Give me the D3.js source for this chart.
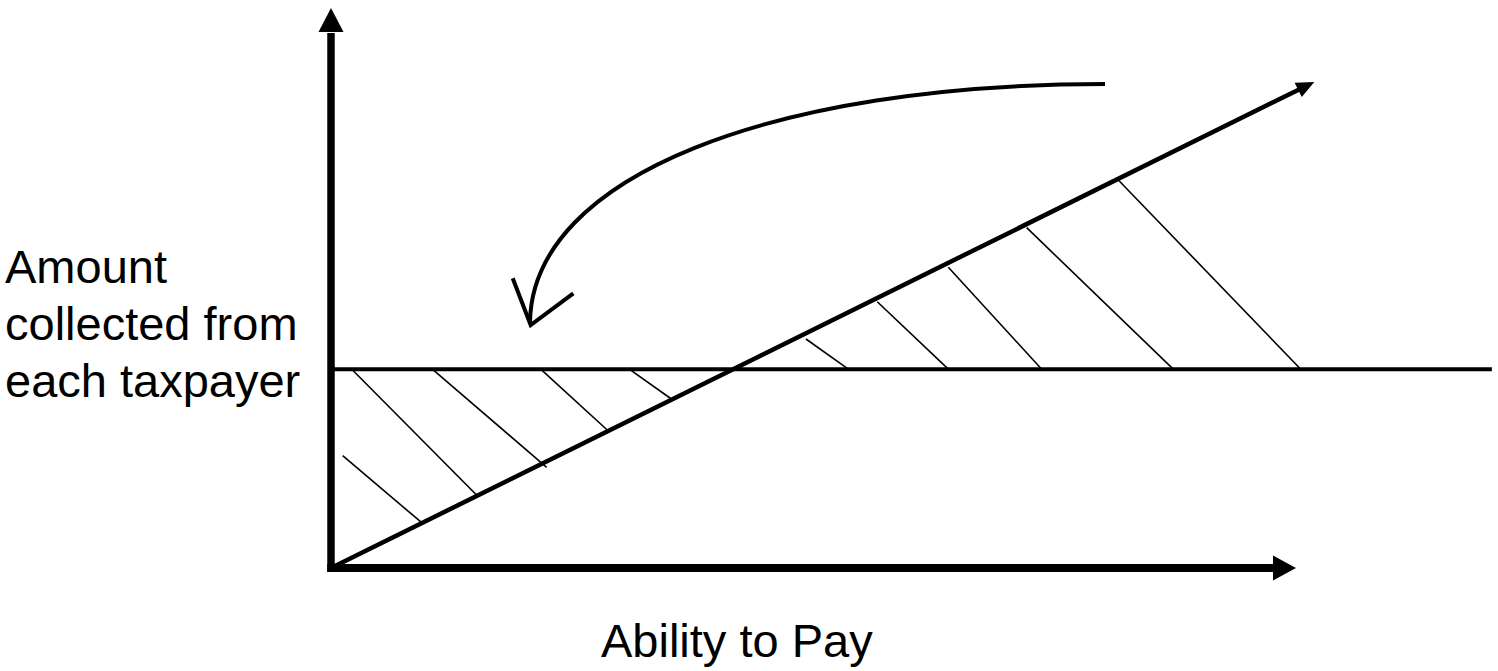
<!DOCTYPE html>
<html>
<head>
<meta charset="utf-8">
<script src="https://cdn.jsdelivr.net/npm/d3@7"></script>
<style>
  html, body { margin: 0; padding: 0; background: #fff; }
  svg { display: block; }
  text { font-family: "Liberation Sans", Arial, sans-serif; fill: #000; }
</style>
</head>
<body>
<svg id="chart" width="1498" height="671"></svg>
<script>
// ---- data (diagram units: ability 0..100, amount 0..100) ----
const axisOrigin = [0, 0];
const axisXEnd = [100, 0];
const axisYEnd = [0, 100];
const flatTax = [[0, 35.5], [120.3, 35.5]];               // flat amount collected
const abilityLine = [[0, 0], [101.9, 86.8]];             // proportional to ability
const hatchLeft = [
  [[1.21, 20.05], [9.56, 7.86]],
  [[2.15, 35.5], [15.16, 12.91]],
  [[10.5, 35.5], [22.35, 17.98]],
  [[21.73, 35.5], [28.74, 24.46]],
  [[30.91, 35.5], [35.31, 30.13]]
];
const hatchRight = [
  [[49.22, 40.89], [53.61, 35.5]],
  [[56.61, 47.55], [63.97, 35.5]],
  [[63.97, 53.7], [73.65, 35.5]],
  [[72.09, 60.77], [87.28, 35.5]],
  [[81.66, 69.16], [100.49, 35.5]]
];
// cubic Bezier: start, control 1, control 2, end
const transferCurve = [[80.21, 86.43], [46.0, 86.43], [20.9, 70.2], [20.62, 43.93]];
const transferHead = [[18.83, 51.73], [20.69, 43.39], [25.11, 49.05]];
const yLabelLines = ["Amount", "collected from", "each taxpayer"];
const xLabel = "Ability to Pay";

// ---- scales ----
const x = d3.scaleLinear().domain([0, 100]).range([331, 1296]);
const y = d3.scaleLinear().domain([0, 100]).range([568, 8]);

const svg = d3.select("#chart");
const line = d3.line().x(d => x(d[0])).y(d => y(d[1]));

// filled arrowhead at tip pointing in direction from 'from' to 'tip'
function arrowHead(g, tip, from, len, half) {
  const tx = x(tip[0]), ty = y(tip[1]);
  const fx = x(from[0]), fy = y(from[1]);
  const dx = tx - fx, dy = ty - fy, L = Math.hypot(dx, dy);
  const ux = dx / L, uy = dy / L;
  const bx = tx - ux * len, by = ty - uy * len;
  const px = -uy, py = ux;
  g.append("path")
    .attr("d", `M${tx},${ty}L${bx + px * half},${by + py * half}L${bx - px * half},${by - py * half}Z`)
    .attr("fill", "#000");
  return [bx, by];
}

// hatch lines
svg.append("g").selectAll("path").data(hatchLeft.concat(hatchRight)).join("path")
  .attr("d", line).attr("stroke", "#000").attr("stroke-width", 1.6).attr("fill", "none");

// flat tax line
svg.append("path").datum(flatTax).attr("d", line)
  .attr("stroke", "#000").attr("stroke-width", 4).attr("fill", "none");

// ability line with arrow
{
  const g = svg.append("g");
  const base = arrowHead(g, abilityLine[1], abilityLine[0], 18, 8);
  g.append("line")
    .attr("x1", x(abilityLine[0][0]) + 2).attr("y1", y(abilityLine[0][1]) - 1)
    .attr("x2", base[0] + 2).attr("y2", base[1] - 1)
    .attr("stroke", "#000").attr("stroke-width", 4.5);
}

// axes
{
  const g = svg.append("g");
  const yb = arrowHead(g, axisYEnd, axisOrigin, 24, 12.5);
  g.append("line").attr("x1", x(0)).attr("x2", x(0))
    .attr("y1", y(0) + 4).attr("y2", yb[1] + 1)
    .attr("stroke", "#000").attr("stroke-width", 7.5);
  const xb = arrowHead(g, axisXEnd, axisOrigin, 23, 12.5);
  g.append("line").attr("y1", y(0)).attr("y2", y(0))
    .attr("x1", x(0) - 3.75).attr("x2", xb[0] + 1)
    .attr("stroke", "#000").attr("stroke-width", 8);
}

// curved transfer arrow
{
  const c = transferCurve.map(d => [x(d[0]), y(d[1])]);
  const p = d3.path();
  p.moveTo(c[0][0], c[0][1]);
  p.bezierCurveTo(c[1][0], c[1][1], c[2][0], c[2][1], c[3][0], c[3][1]);
  svg.append("path").attr("d", p.toString())
    .attr("stroke", "#000").attr("stroke-width", 4).attr("fill", "none");
  svg.append("path").datum(transferHead).attr("d", line)
    .attr("stroke", "#000").attr("stroke-width", 4).attr("fill", "none")
    .attr("stroke-linejoin", "miter");
}

// labels
svg.append("text").attr("x", 5).attr("y", 283).attr("font-size", 47)
  .selectAll("tspan").data(yLabelLines).join("tspan")
  .attr("x", 5).attr("dy", (d, i) => i === 0 ? 0 : 57).text(d => d);

svg.append("text").attr("x", 601).attr("y", 657).attr("font-size", 47).text(xLabel);
</script>
</body>
</html>
